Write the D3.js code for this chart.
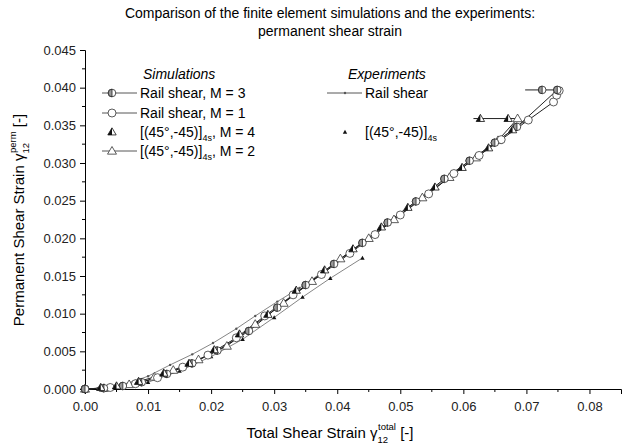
<!DOCTYPE html>
<html lang="en">
<head>
<meta charset="UTF-8">
<title>Permanent shear strain</title>
<script src="https://d3js.org/d3.v7.min.js"></script>
<style>
  body { margin: 0; background: #fff; }
  svg { font-family: "Liberation Sans", Arial, sans-serif; }
</style>
</head>
<body>
<div id="chart"></div>
<script>
// ---- data ----
const m3X = [0, 0.003, 0.006, 0.009, 0.013, 0.017, 0.021, 0.026, 0.0305, 0.035, 0.0395, 0.044, 0.048, 0.0525, 0.057, 0.061, 0.065, 0.0685, 0.0749, 0.0725, 0.0698];
const m3Y = [0, 0.0001, 0.0004, 0.0009, 0.0020, 0.0034, 0.0051, 0.0077, 0.0108, 0.0138, 0.0166, 0.0194, 0.0221, 0.0249, 0.0279, 0.0303, 0.0327, 0.0348, 0.0397, 0.0397, 0.0397];

const m1X = [0, 0.004, 0.008, 0.0115, 0.0155, 0.0195, 0.024, 0.0285, 0.033, 0.0375, 0.042, 0.046, 0.050, 0.0545, 0.0585, 0.0625, 0.066, 0.0703, 0.0743, 0.0748, 0.0752];
const m1Y = [0, 0.0002, 0.0007, 0.0015, 0.0029, 0.0045, 0.0068, 0.0097, 0.0125, 0.0152, 0.0180, 0.0205, 0.0231, 0.0259, 0.0286, 0.0310, 0.0331, 0.0357, 0.0381, 0.0390, 0.0396];

const m4X = [0.0025, 0.005, 0.0085, 0.0125, 0.0165, 0.0205, 0.0245, 0.029, 0.0335, 0.038, 0.0425, 0.047, 0.0512, 0.0555, 0.0598, 0.064, 0.0678, 0.0671, 0.0627];
const m4Y = [0.0002, 0.0004, 0.0010, 0.0021, 0.0034, 0.0052, 0.0073, 0.0099, 0.0131, 0.0158, 0.0186, 0.0215, 0.0241, 0.0268, 0.0294, 0.0320, 0.0344, 0.0359, 0.0359];

const m2X = [0, 0.003, 0.007, 0.011, 0.014, 0.018, 0.0225, 0.027, 0.0315, 0.036, 0.0405, 0.045, 0.049, 0.0535, 0.0578, 0.062, 0.0655, 0.0686, 0.0616];
const m2Y = [0, 0.0001, 0.0006, 0.0016, 0.0025, 0.0039, 0.0057, 0.0086, 0.0114, 0.0143, 0.0173, 0.0200, 0.0225, 0.0254, 0.0281, 0.0307, 0.0330, 0.0359, 0.0359];

const expRailX = [0, 0.002, 0.004, 0.006, 0.008, 0.010, 0.0135, 0.017, 0.0203, 0.024, 0.027, 0.0305, 0.034, 0.038, 0.042, 0.046, 0.050, 0.054, 0.058, 0.062, 0.066, 0.0695];
const expRailY = [0, 0.0001, 0.0003, 0.0006, 0.0011, 0.0017, 0.0032, 0.0046, 0.0061, 0.0080, 0.0097, 0.0116, 0.0134, 0.0157, 0.0182, 0.0208, 0.0234, 0.0258, 0.0284, 0.0309, 0.0333, 0.0354];

const exp45X = [0, 0.005, 0.010, 0.015, 0.020, 0.025, 0.030, 0.0345, 0.0389, 0.044];
const exp45Y = [0, 0.0002, 0.0009, 0.0024, 0.0043, 0.0066, 0.0095, 0.0122, 0.0147, 0.0174];

const xTicks = [0, 0.01, 0.02, 0.03, 0.04, 0.05, 0.06, 0.07, 0.08];
const yTicks = [0, 0.005, 0.010, 0.015, 0.020, 0.025, 0.030, 0.035, 0.040, 0.045];

const series = [
  {x: expRailX, y: expRailY, marker: "dot",     line: true,  width: 0.8, color: "#666", mark: expRailX.length},
  {x: exp45X,   y: exp45Y,   marker: "tinyTri", line: true,  width: 0.8, color: "#666", mark: exp45X.length},
  {x: m2X,      y: m2Y,      marker: "triOpen", line: true,  width: 1,   color: "#222", mark: m2X.length - 1},
  {x: m1X,      y: m1Y,      marker: "circOpen",line: true,  width: 1,   color: "#222", mark: m1X.length},
  {x: m3X,      y: m3Y,      marker: "circHalf",line: true,  width: 1,   color: "#222", mark: m3X.length - 1},
  {x: m4X,      y: m4Y,      marker: "triHalf", line: false, width: 1,   color: "#222", mark: m4X.length}
];

// ---- layout ----
const W = 623, H = 445;
const margin = {left: 85, top: 50, right: 2, bottom: 56};

const svg = d3.select("#chart").append("svg")
  .attr("width", W).attr("height", H);

const x = d3.scaleLinear().domain([0, 0.085]).range([margin.left, W - margin.right]);
const y = d3.scaleLinear().domain([0, 0.045]).range([H - margin.bottom, margin.top]);

// title
svg.append("text").attr("x", 330).attr("y", 18).attr("text-anchor", "middle")
  .style("font-size", "14px")
  .text("Comparison of the finite element simulations and the experiments:");
svg.append("text").attr("x", 330).attr("y", 36).attr("text-anchor", "middle")
  .style("font-size", "14px")
  .text("permanent shear strain");

// axes
const xAxis = svg.append("g").attr("transform", `translate(0,${y(0)})`)
  .call(d3.axisBottom(x).tickValues(xTicks).tickFormat(d3.format(".2f")).tickSizeOuter(0).tickSize(5));
const yAxis = svg.append("g").attr("transform", `translate(${x(0)},0)`)
  .call(d3.axisLeft(y).tickValues(yTicks).tickFormat(d3.format(".3f")).tickSizeOuter(0).tickSize(5));

// minor ticks
xAxis.selectAll(".minor").data(d3.range(0.005, 0.085, 0.01)).join("line")
  .attr("class", "minor").attr("x1", d => x(d)).attr("x2", d => x(d))
  .attr("y1", 0).attr("y2", 3).attr("stroke", "#000");
yAxis.selectAll(".minor").data(d3.range(0.0025, 0.045, 0.005)).join("line")
  .attr("class", "minor").attr("y1", d => y(d)).attr("y2", d => y(d))
  .attr("x1", 0).attr("x2", -3).attr("stroke", "#000");

[xAxis, yAxis].forEach(a => {
  a.attr("font-size", null).attr("font-family", null);
  a.selectAll(".tick text").style("font-size", "13px").attr("fill", "#222");
  a.select(".domain").attr("stroke", "#000");
});
xAxis.selectAll(".tick text").attr("dy", "1.05em");
yAxis.selectAll(".tick text").attr("x", -9);

// axis titles
const xt = svg.append("text").attr("x", 330).attr("y", 438).attr("text-anchor", "middle")
  .style("font-size", "15px");
xt.append("tspan").text("Total Shear Strain \u03B3");
xt.append("tspan").attr("dy", 5).style("font-size", "9.5px").text("12");
xt.append("tspan").attr("dx", -10).attr("dy", -13).style("font-size", "9.5px").text("total");
xt.append("tspan").attr("dy", 8).text(" [-]");

const yt = svg.append("text").attr("transform", "translate(24,220) rotate(-90)")
  .attr("text-anchor", "middle").style("font-size", "15px");
yt.append("tspan").text("Permanent Shear Strain \u03B3");
yt.append("tspan").attr("dy", 5).style("font-size", "9.5px").text("12");
yt.append("tspan").attr("dx", -10).attr("dy", -13).style("font-size", "9.5px").text("perm");
yt.append("tspan").attr("dy", 8).text(" [-]");

// marker drawing
function drawMarker(g, type, cx, cy) {
  if (type === "circOpen") {
    g.append("circle").attr("cx", cx).attr("cy", cy).attr("r", 4)
      .attr("fill", "#fff").attr("stroke", "#333").attr("stroke-width", 0.8);
  } else if (type === "circHalf") {
    g.append("circle").attr("cx", cx).attr("cy", cy).attr("r", 3.8)
      .attr("fill", "#fff").attr("stroke", "#222").attr("stroke-width", 0.8);
    g.append("path").attr("d", `M${cx},${cy - 3.8} A3.8,3.8 0 0 0 ${cx},${cy + 3.8} Z`)
      .attr("fill", "#999").attr("stroke", "#222").attr("stroke-width", 0.8);
  } else if (type === "triOpen") {
    const s = 4.5;
    g.append("path").attr("d", `M${cx},${cy - s} L${cx + s},${cy + s * 0.7} L${cx - s},${cy + s * 0.7} Z`)
      .attr("fill", "#fff").attr("stroke", "#333").attr("stroke-width", 0.8);
  } else if (type === "triHalf") {
    const s = 4.2;
    g.append("path").attr("d", `M${cx},${cy - s} L${cx + s},${cy + s * 0.7} L${cx - s},${cy + s * 0.7} Z`)
      .attr("fill", "#fff").attr("stroke", "#111").attr("stroke-width", 0.8);
    g.append("path").attr("d", `M${cx},${cy - s} L${cx},${cy + s * 0.7} L${cx - s},${cy + s * 0.7} Z`)
      .attr("fill", "#111");
  } else if (type === "dot") {
    g.append("circle").attr("cx", cx).attr("cy", cy).attr("r", 1.2).attr("fill", "#555");
  } else if (type === "tinyTri") {
    const s = 2.2;
    g.append("path").attr("d", `M${cx},${cy - s} L${cx + s},${cy + s * 0.8} L${cx - s},${cy + s * 0.8} Z`)
      .attr("fill", "#111");
  }
}

// lines
const lineGen = d3.line().x(d => x(d[0])).y(d => y(d[1]));
series.filter(s => s.line).forEach(s => {
  svg.append("path").datum(d3.zip(s.x, s.y))
    .attr("d", lineGen).attr("fill", "none")
    .attr("stroke", s.color).attr("stroke-width", s.width);
});

// markers
series.forEach(s => {
  const g = svg.append("g");
  d3.zip(s.x, s.y).slice(0, s.mark).forEach(p => drawMarker(g, s.marker, x(p[0]), y(p[1])));
});

// legend
const legend = svg.append("g").style("font-size", "14px");
legend.append("text").attr("x", 143).attr("y", 79).style("font-style", "italic").text("Simulations");
legend.append("text").attr("x", 348).attr("y", 79).style("font-style", "italic").text("Experiments");

const simRows = [
  {y: 93,  marker: "circHalf", line: true,  label: "Rail shear, M = 3"},
  {y: 113, marker: "circOpen", line: true,  label: "Rail shear, M = 1"},
  {y: 132, marker: "triHalf",  line: false, label: "[(45\u00B0,-45)]", sub: "4s", rest: ", M = 4"},
  {y: 151, marker: "triOpen",  line: true,  label: "[(45\u00B0,-45)]", sub: "4s", rest: ", M = 2"}
];
const expRows = [
  {y: 93,  marker: "dot",     line: true,  label: "Rail shear"},
  {y: 132, marker: "tinyTri", line: false, label: "[(45\u00B0,-45)]", sub: "4s"}
];

function legendRow(r, x0, x1, mx, tx) {
  if (r.line) legend.append("line").attr("x1", x0).attr("x2", x1).attr("y1", r.y).attr("y2", r.y)
    .attr("stroke", "#444").attr("stroke-width", 0.9);
  drawMarker(legend, r.marker, mx, r.y);
  const t = legend.append("text").attr("x", tx).attr("y", r.y + 5);
  t.append("tspan").text(r.label);
  if (r.sub) t.append("tspan").attr("dy", 4).style("font-size", "9px").text(r.sub);
  if (r.rest) t.append("tspan").attr("dy", -4).text(r.rest);
}
simRows.forEach(r => legendRow(r, 102, 137, 112, 140));
expRows.forEach(r => legendRow(r, 327, 362, 345, 365));
</script>
</body>
</html>
